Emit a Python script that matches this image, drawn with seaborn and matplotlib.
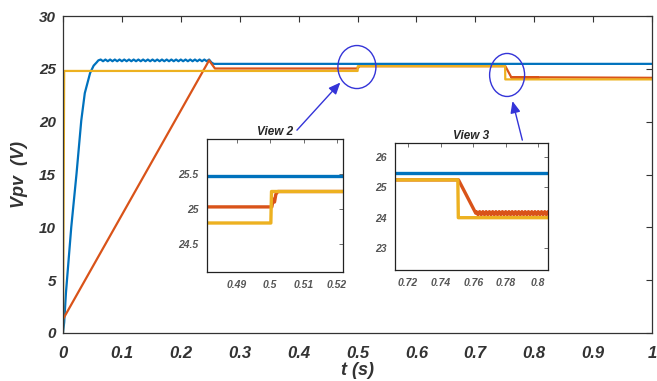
import numpy as np
import pandas as pd
import matplotlib
matplotlib.use("Agg")
import matplotlib.pyplot as plt
from matplotlib.patches import Ellipse
import seaborn as sns

# ---------------- data ----------------
blue_t = [0.000, 0.002, 0.005, 0.014, 0.023, 0.031, 0.037, 0.046, 0.052, 0.057, 0.060,
          0.064, 0.068, 0.072, 0.076, 0.080, 0.084, 0.088, 0.092, 0.096, 0.100,
          0.104, 0.108, 0.112, 0.116, 0.120, 0.124, 0.128, 0.132, 0.136, 0.140,
          0.144, 0.148, 0.152, 0.156, 0.160, 0.164, 0.168, 0.172, 0.176, 0.180,
          0.184, 0.188, 0.192, 0.196, 0.200, 0.204, 0.208, 0.212, 0.216, 0.220,
          0.224, 0.228, 0.232, 0.236, 0.240, 0.244, 0.248, 0.252, 0.256, 1.000]
blue_v = [0.0, 1.0, 3.8, 10.0, 15.1, 20.1, 22.7, 24.6, 25.3, 25.6, 25.8,
          25.88, 25.72, 25.88, 25.72, 25.88, 25.72, 25.88, 25.72, 25.88, 25.72,
          25.88, 25.72, 25.88, 25.72, 25.88, 25.72, 25.88, 25.72, 25.88, 25.72,
          25.88, 25.72, 25.88, 25.72, 25.88, 25.72, 25.88, 25.72, 25.88, 25.72,
          25.88, 25.72, 25.88, 25.72, 25.88, 25.72, 25.88, 25.72, 25.88, 25.72,
          25.88, 25.72, 25.88, 25.72, 25.88, 25.72, 25.88, 25.6, 25.47, 25.47]

red_t = [0.000, 0.248, 0.258, 0.5005, 0.5009, 0.5013, 0.5017, 0.5023, 0.7510, 0.7616,
         0.762, 0.763, 0.764, 0.765, 0.766, 0.767, 0.768, 0.769, 0.770, 0.771,
         0.772, 0.773, 0.774, 0.775, 0.776, 0.777, 0.778, 0.779, 0.780, 0.781,
         0.782, 0.783, 0.784, 0.785, 0.786, 0.787, 0.788, 0.789, 0.790, 0.791,
         0.792, 0.793, 0.794, 0.795, 0.796, 0.797, 0.798, 0.799, 0.800, 0.801,
         0.802, 0.803, 0.804, 0.805, 0.806, 0.807, 0.808, 1.000]
red_v = [1.3, 25.8, 25.03, 25.03, 25.14, 25.10, 25.21, 25.25, 25.25, 24.15,
         24.2, 24.1, 24.2, 24.1, 24.2, 24.1, 24.2, 24.1, 24.2, 24.1,
         24.2, 24.1, 24.2, 24.1, 24.2, 24.1, 24.2, 24.1, 24.2, 24.1,
         24.2, 24.1, 24.2, 24.1, 24.2, 24.1, 24.2, 24.1, 24.2, 24.1,
         24.2, 24.1, 24.2, 24.1, 24.2, 24.1, 24.2, 24.1, 24.2, 24.1,
         24.2, 24.1, 24.2, 24.1, 24.2, 24.1, 24.2, 24.15]

yel_t = [0.000, 0.002, 0.5002, 0.5004, 0.7506, 0.7509, 1.000]
yel_v = [0.0, 24.8, 24.8, 25.25, 25.25, 24.0, 24.0]

series_names = ["blue", "red", "yellow"]
palette = {"blue": "#0072BD", "red": "#D95319", "yellow": "#EDB120"}

x_ticks = [0, 0.1, 0.2, 0.3, 0.4, 0.5, 0.6, 0.7, 0.8, 0.9, 1]
x_ticklabels = ["0", "0.1", "0.2", "0.3", "0.4", "0.5", "0.6", "0.7", "0.8", "0.9", "1"]
y_ticks = [0, 5, 10, 15, 20, 25, 30]

in2_xticks = [0.49, 0.5, 0.51, 0.52]
in2_xlabels = ["0.49", "0.5", "0.51", "0.52"]
in2_yticks = [24.5, 25, 25.5]
in2_ylabels = ["24.5", "25", "25.5"]
in3_xticks = [0.72, 0.74, 0.76, 0.78, 0.8]
in3_xlabels = ["0.72", "0.74", "0.76", "0.78", "0.8"]
in3_yticks = [23, 24, 25, 26]
in3_ylabels = ["23", "24", "25", "26"]

df = pd.concat([
    pd.DataFrame({"t": blue_t, "v": blue_v, "series": "blue"}),
    pd.DataFrame({"t": red_t, "v": red_v, "series": "red"}),
    pd.DataFrame({"t": yel_t, "v": yel_v, "series": "yellow"}),
], ignore_index=True)

# ---------------- style ----------------
sns.set_style("white")
plt.rcParams["font.family"] = ["Liberation Sans", "DejaVu Sans"]

fig = plt.figure(figsize=(6.57, 3.81), dpi=100)
ax = fig.add_axes([63/657, (381-333)/381, (652-63)/657, (333-16)/381])

sns.lineplot(data=df, x="t", y="v", hue="series", hue_order=series_names,
             palette=palette, sort=False, estimator=None, legend=False,
             linewidth=1.6, ax=ax)
ax.set_xlim(0, 1)
ax.set_ylim(0, 30)
ax.set_xticks(x_ticks)
ax.set_xticklabels(x_ticklabels)
ax.set_yticks(y_ticks)
for lab in ax.get_xticklabels():
    lab.set_fontsize(12); lab.set_fontweight("bold"); lab.set_fontstyle("italic"); lab.set_color("#333333")
for lab in ax.get_yticklabels():
    lab.set_fontsize(11); lab.set_fontweight("bold"); lab.set_fontstyle("italic"); lab.set_color("#333333")
ax.tick_params(direction="in", length=4, width=0.8, top=True, right=True,
               colors="#333333")
ax.tick_params(axis="x", pad=9)
ax.tick_params(axis="y", pad=5)
for s in ax.spines.values():
    s.set_color("#333333"); s.set_linewidth(0.9)
ax.set_xlabel("t (s)", fontsize=13, fontweight="bold", fontstyle="italic",
              color="#333333", labelpad=1)
ax.set_ylabel("Vpv  (V)", fontsize=13, fontweight="bold", fontstyle="italic",
              color="#333333", labelpad=8)

# circles and arrows
ec = "#3434d8"
ax.add_patch(Ellipse((0.499, 25.17), 0.0645, 4.07, fill=False, ec=ec, lw=1.0, zorder=5))
ax.add_patch(Ellipse((0.754, 24.42), 0.0594, 4.07, fill=False, ec=ec, lw=1.0, zorder=5))
ax.annotate("", xy=(0.474, 23.9), xytext=(0.394, 19.0),
            arrowprops=dict(arrowstyle="-|>,head_length=0.7,head_width=0.3", color=ec, lw=1.0),
            zorder=6)
ax.annotate("", xy=(0.762, 22.2), xytext=(0.781, 18.0),
            arrowprops=dict(arrowstyle="-|>,head_length=0.7,head_width=0.3", color=ec, lw=1.0),
            zorder=6)

def style_inset(a, xt, xl, yt, yl, title):
    a.set_xticks(xt); a.set_xticklabels(xl)
    a.set_yticks(yt); a.set_yticklabels(yl)
    for lab in a.get_xticklabels() + a.get_yticklabels():
        lab.set_fontsize(7.5); lab.set_fontweight("bold"); lab.set_fontstyle("italic"); lab.set_color("#444444")
    a.tick_params(direction="in", length=3, width=0.6, top=True, right=True, colors="#555555", pad=6)
    for s in a.spines.values():
        s.set_color("#222222"); s.set_linewidth(0.9)
    a.set_xlabel(""); a.set_ylabel("")
    a.set_title(title, fontsize=8.5, fontweight="bold", fontstyle="italic", pad=3)

in2 = fig.add_axes([206.7/657, (381-272)/381, 136.3/657, 133/381])
sns.lineplot(data=df, x="t", y="v", hue="series", hue_order=series_names,
             palette=palette, sort=False, estimator=None, legend=False,
             linewidth=2.4, ax=in2)
in2.set_xlim(0.481, 0.5218)
in2.set_ylim(24.1, 26.0)
style_inset(in2, in2_xticks, in2_xlabels, in2_yticks, in2_ylabels, "View 2")

in3 = fig.add_axes([395/657, (381-270)/381, 153/657, 127/381])
sns.lineplot(data=df, x="t", y="v", hue="series", hue_order=series_names,
             palette=palette, sort=False, estimator=None, legend=False,
             linewidth=2.4, ax=in3)
in3.set_xlim(0.712, 0.806)
in3.set_ylim(22.27, 26.47)
style_inset(in3, in3_xticks, in3_xlabels, in3_yticks, in3_ylabels, "View 3")

fig.savefig("out.png", dpi=100)
